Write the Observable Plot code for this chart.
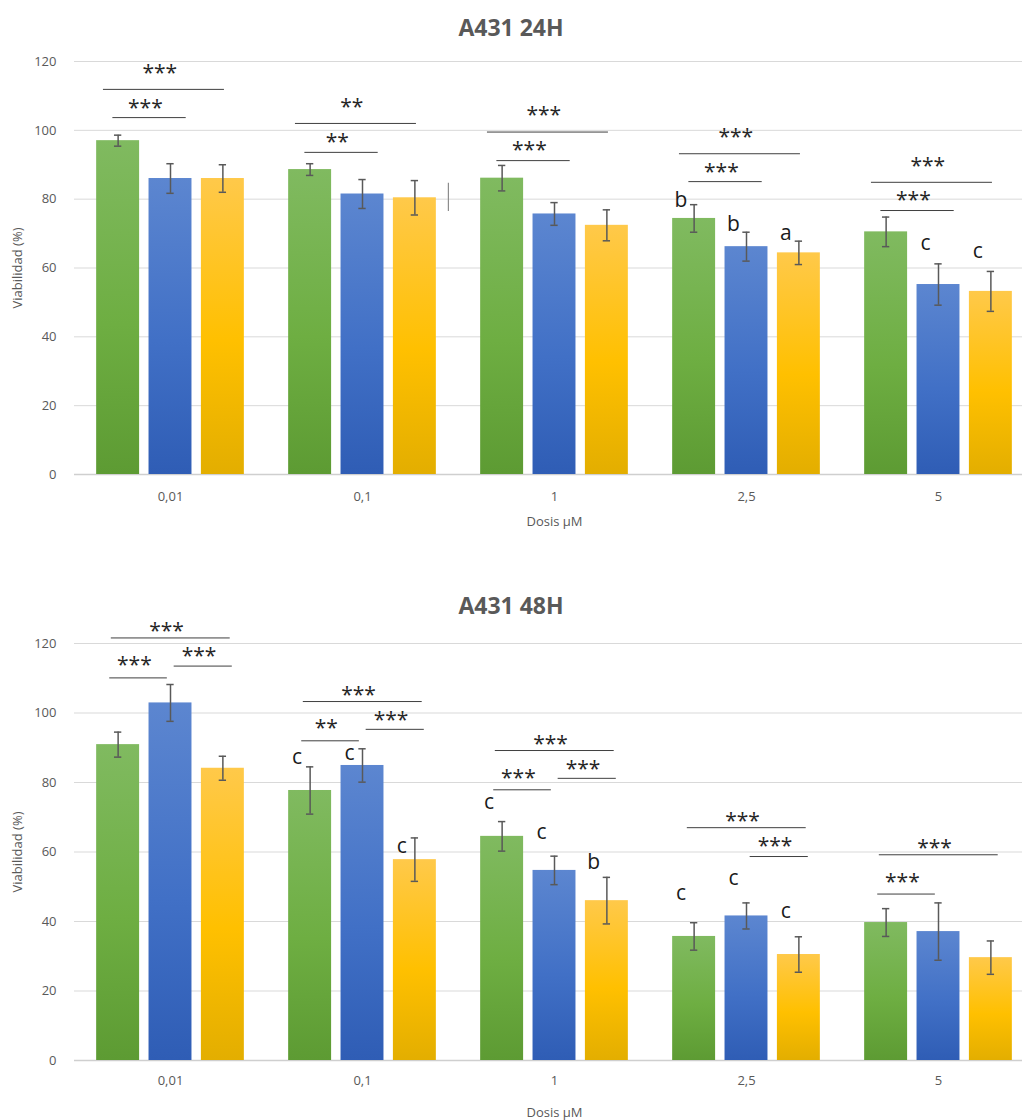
<!DOCTYPE html>
<html lang="es">
<head>
<meta charset="utf-8">
<script src="https://cdn.jsdelivr.net/npm/d3@7"></script>
<script src="https://cdn.jsdelivr.net/npm/@observablehq/plot@0.6"></script>
<style>
html, body { margin: 0; padding: 0; background: #fff; overflow: hidden; width: 1022px; height: 1120px; }
.title { font-family: "Open Sans", "Noto Sans", sans-serif; font-weight: 700; font-size: 23px; color: #595959; text-align: center; white-space: nowrap; }
#title24 { height: 45px; line-height: 54px; }
#title48 { height: 20px; padding-top: 40px; line-height: 50px; }
#chart24 svg, #chart48 svg { display: block; }
g[aria-label="bars"] rect { filter: drop-shadow(0 0 1px rgba(0,0,0,0.35)); }
</style>
</head>
<body>
<svg width="0" height="0" style="position:absolute">
  <defs>
    <linearGradient id="grad-green" x1="0" y1="0" x2="0" y2="1">
      <stop offset="0" stop-color="#80ba60"/>
      <stop offset="0.55" stop-color="#6eae42"/>
      <stop offset="1" stop-color="#5d9b33"/>
    </linearGradient>
    <linearGradient id="grad-blue" x1="0" y1="0" x2="0" y2="1">
      <stop offset="0" stop-color="#5c86d0"/>
      <stop offset="0.55" stop-color="#4170c6"/>
      <stop offset="1" stop-color="#2f5db5"/>
    </linearGradient>
    <linearGradient id="grad-yellow" x1="0" y1="0" x2="0" y2="1">
      <stop offset="0" stop-color="#ffc94a"/>
      <stop offset="0.55" stop-color="#ffc000"/>
      <stop offset="1" stop-color="#e3ae00"/>
    </linearGradient>
  </defs>
</svg>
<div id="title24" class="title">A431 24H</div>
<div id="chart24"></div>
<div id="title48" class="title">A431 48H</div>
<div id="chart48"></div>
<script>
// ---------------- data ----------------
const doses = ["0,01", "0,1", "1", "2,5", "5"];
const series = ["Serie 1", "Serie 2", "Serie 3"];
const yTicks = [0, 20, 40, 60, 80, 100, 120];

// A431 24H : mean viability (%) and error per dose
const mean24S1 = [97.0, 88.6, 86.1, 74.4, 70.5];
const err24S1  = [1.6, 1.7, 3.7, 4.0, 4.3];
const mean24S2 = [86.0, 81.5, 75.7, 66.2, 55.2];
const err24S2  = [4.3, 4.2, 3.3, 4.2, 6.0];
const mean24S3 = [86.0, 80.4, 72.4, 64.4, 53.2];
const err24S3  = [4.0, 5.0, 4.5, 3.4, 5.8];

// A431 48H
const mean48S1 = [90.9, 77.7, 64.5, 35.7, 39.7];
const err48S1  = [3.6, 6.8, 4.25, 3.95, 4.0];
const mean48S2 = [102.9, 84.9, 54.7, 41.6, 37.1];
const err48S2  = [5.3, 4.8, 4.1, 3.75, 8.25];
const mean48S3 = [84.1, 57.8, 46.0, 30.5, 29.6];
const err48S3  = [3.45, 6.25, 6.7, 5.1, 4.8];

// significance brackets: [dose, from, to, bracket level, label level, label]
const sig24 = [
  ["0,01", "Serie 1", "Serie 3", 111.9, 117.1, "***"],
  ["0,01", "Serie 1", "Serie 2", 103.7, 106.9, "***"],
  ["0,1",  "Serie 1", "Serie 3", 102.0, 107.2, "**"],
  ["0,1",  "Serie 1", "Serie 2", 93.6, 97.0, "**"],
  ["1",    "Serie 1", "Serie 3", 99.5, 104.9, "***"],
  ["1",    "Serie 1", "Serie 2", 91.2, 94.7, "***"],
  ["2,5",  "Serie 1", "Serie 3", 93.2, 98.5, "***"],
  ["2,5",  "Serie 1", "Serie 2", 85.1, 88.3, "***"],
  ["5",    "Serie 1", "Serie 3", 84.9, 90.0, "***"],
  ["5",    "Serie 1", "Serie 2", 76.7, 80.2, "***"]
];
const sig48 = [
  ["0,01", "Serie 1", "Serie 3", 121.6, 124.0, "***"],
  ["0,01", "Serie 1", "Serie 2", 110.1, 114.2, "***"],
  ["0,01", "Serie 2", "Serie 3", 113.5, 116.8, "***"],
  ["0,1",  "Serie 1", "Serie 3", 103.3, 105.7, "***"],
  ["0,1",  "Serie 1", "Serie 2", 92.0, 96.1, "**"],
  ["0,1",  "Serie 2", "Serie 3", 95.3, 98.6, "***"],
  ["1",    "Serie 1", "Serie 3", 89.2, 91.6, "***"],
  ["1",    "Serie 1", "Serie 2", 77.9, 81.8, "***"],
  ["1",    "Serie 2", "Serie 3", 81.2, 84.5, "***"],
  ["2,5",  "Serie 1", "Serie 3", 67.0, 69.4, "***"],
  ["2,5",  "Serie 2", "Serie 3", 58.7, 62.2, "***"],
  ["5",    "Serie 1", "Serie 3", 59.2, 61.7, "***"],
  ["5",    "Serie 1", "Serie 2", 47.9, 51.8, "***"]
];

// letter labels: [dose, series, level, letter]
const letters24 = [
  ["2,5", "Serie 1", 79.6, "b"],
  ["2,5", "Serie 2", 72.6, "b"],
  ["2,5", "Serie 3", 70.0, "a"],
  ["5",   "Serie 2", 67.1, "c"],
  ["5",   "Serie 3", 64.8, "c"]
];
const letters48 = [
  ["0,1", "Serie 1", 87.3, "c"],
  ["0,1", "Serie 2", 88.5, "c"],
  ["0,1", "Serie 3", 61.6, "c"],
  ["1",   "Serie 1", 74.2, "c"],
  ["1",   "Serie 2", 65.7, "c"],
  ["1",   "Serie 3", 57.1, "b"],
  ["2,5", "Serie 1", 48.1, "c"],
  ["2,5", "Serie 2", 52.3, "c"],
  ["2,5", "Serie 3", 42.9, "c"]
];

// stray vertical stroke present in the 24H reference: [dose, low, high]
const stray24 = [["0,1", 76.4, 84.6]];

// ---------------- helpers ----------------
const FONT = '"Open Sans", "Noto Sans", sans-serif';
const fills = {"Serie 1": "url(#grad-green)", "Serie 2": "url(#grad-blue)", "Serie 3": "url(#grad-yellow)"};
const pos = s => series.indexOf(s);

function buildRows(means, errs) {
  return series.flatMap((s, k) => doses.map((d, i) => ({dose: d, series: s, value: means[k][i], err: errs[k][i]})));
}
const toSig = arr => arr.map(([dose, from, to, y, ty, label]) => ({dose, from, to, y, ty, label}));
const toLetters = arr => arr.map(([dose, s, y, letter]) => ({dose, series: s, y, letter}));

function drawChart(cfg) {
  const {data, sig, letters, stray, ext, height, marginTop, marginBottom, tickPadding, xLabelOffset} = cfg;
  const HALF = 0.41, CAP = 0.07;
  const lx1 = d => pos(d.from) + ext[d.from + "|" + d.to][0];
  const lx2 = d => pos(d.to) + ext[d.from + "|" + d.to][1];
  return Plot.plot({
    width: 1022,
    height,
    marginTop,
    marginBottom,
    marginLeft: 73,
    marginRight: -13,
    style: {fontFamily: FONT, fontSize: "13px", color: "#595959", background: "transparent"},
    fx: {domain: doses, padding: 0},
    x: {domain: [-0.833, 2.833], axis: null},
    y: {domain: [0, 120]},
    color: {type: "identity"},
    marks: [
      Plot.gridY({ticks: yTicks, stroke: "#d9d9d9", strokeOpacity: 1, strokeWidth: 1}),
      Plot.ruleY([0], {stroke: "#cfcfcf", strokeWidth: 1.5}),
      Plot.rectY(data, {
        fx: "dose",
        x1: d => pos(d.series) - HALF,
        x2: d => pos(d.series) + HALF,
        y1: 0,
        y2: "value",
        fill: d => fills[d.series],
        ariaLabel: "bars"
      }),
      Plot.ruleX(data, {fx: "dose", x: d => pos(d.series), y1: d => d.value - d.err, y2: d => d.value + d.err, stroke: "#595959", strokeWidth: 1.5}),
      Plot.ruleY(data, {fx: "dose", x1: d => pos(d.series) - CAP, x2: d => pos(d.series) + CAP, y: d => d.value + d.err, stroke: "#595959", strokeWidth: 1.5}),
      Plot.ruleY(data, {fx: "dose", x1: d => pos(d.series) - CAP, x2: d => pos(d.series) + CAP, y: d => d.value - d.err, stroke: "#595959", strokeWidth: 1.5}),
      Plot.ruleY(sig, {fx: "dose", x1: lx1, x2: lx2, y: "y", stroke: "#3f3f3f", strokeWidth: 1}),
      Plot.text(sig, {fx: "dose", x: d => (lx1(d) + lx2(d)) / 2 - 0.08, y: "ty", text: "label", fontSize: 21, fill: "#262626", dy: 2, fontFamily: FONT}),
      Plot.text(letters, {fx: "dose", x: d => pos(d.series) - 0.25, y: "y", text: "letter", fontSize: 21, fill: "#1a1a1a", fontFamily: FONT}),
      Plot.ruleX(stray, {fx: d => d[0], x: () => pos("Serie 3") + 0.64, y1: d => d[1], y2: d => d[2], stroke: "#8c8c8c", strokeWidth: 1.2}),
      Plot.axisY({ticks: yTicks, tickSize: 0, tickPadding: 18, label: "Viabilidad (%)", labelAnchor: "center", labelOffset: 62, labelArrow: "none", fontSize: 13}),
      Plot.axisFx({anchor: "bottom", tickSize: 0, tickPadding, label: "Dosis µM", labelAnchor: "center", labelOffset: xLabelOffset, fontSize: 13})
    ]
  });
}

document.getElementById("chart24").append(drawChart({
  data: buildRows([mean24S1, mean24S2, mean24S3], [err24S1, err24S2, err24S3]),
  sig: toSig(sig24),
  letters: toLetters(letters24),
  stray: stray24,
  ext: {"Serie 1|Serie 3": [-0.28, 0.03], "Serie 1|Serie 2": [-0.1, 0.3]},
  height: 495,
  marginTop: 16,
  marginBottom: 66,
  tickPadding: 17,
  xLabelOffset: 51
}));

document.getElementById("chart48").append(drawChart({
  data: buildRows([mean48S1, mean48S2, mean48S3], [err48S1, err48S2, err48S3]),
  sig: toSig(sig48),
  letters: toLetters(letters48),
  stray: [],
  ext: {"Serie 1|Serie 3": [-0.13, 0.14], "Serie 1|Serie 2": [-0.16, -0.06], "Serie 2|Serie 3": [0.07, 0.18]},
  height: 520,
  marginTop: 43,
  marginBottom: 60,
  tickPadding: 15,
  xLabelOffset: 56
}));
</script>
</body>
</html>
